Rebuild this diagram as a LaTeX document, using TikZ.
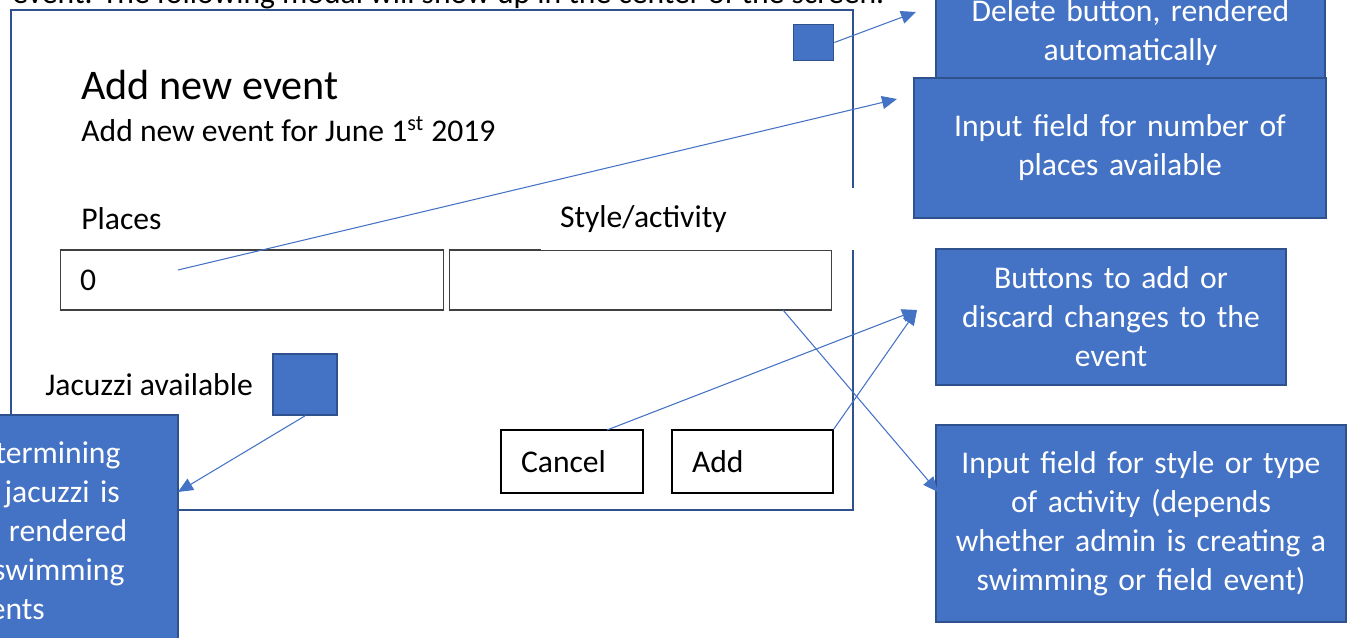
\documentclass[tikz,border=0pt]{standalone}
\usepackage{fontspec}
\setmainfont{Carlito}
\usetikzlibrary{arrows.meta,positioning}
\definecolor{officeblue}{RGB}{68,114,196}
\definecolor{officeedge}{RGB}{47,82,143}
\definecolor{fieldedge}{RGB}{64,64,64}
\newcommand{\bodyfont}{\fontsize{18}{22.2}\selectfont}
\newcommand{\titlefont}{\fontsize{24}{29}\selectfont}

\tikzset{
  note/.style={fill=officeblue, draw=officeedge, line width=0.8pt, text=white,
    align=center, font=\bodyfont, inner sep=0pt},
  field/.style={draw=fieldedge, line width=0.6pt, inner xsep=0.4cm, inner ysep=0pt,
    align=left, font=\bodyfont},
  bluebox/.style={fill=officeblue, draw=officeedge, line width=1pt, inner sep=0pt},
  caption/.style={anchor=base west, inner sep=0pt, font=\bodyfont},
  pointer/.style={draw=officeblue, line width=0.6pt,
    -{Triangle[length=0.3cm, width=0.26cm]}},
}

\begin{document}
\begin{tikzpicture}[x=0.02cm, y=-0.02cm]
  \useasboundingbox (0,0) rectangle (1350,638);

  % modal window
  \node (modal) [draw=officeedge, line width=1.4pt, minimum width=16.84cm,
    minimum height=10cm] at (432,260) {};
  \node (intro) [caption] at (12,4)
    {event. The following modal will show up in the center of the screen.};
  \node (title) [caption, font=\titlefont] at (81,100) {Add new event};
  \node (subtitle) [caption] at (81,142) {Add new event for June 1\textsuperscript{st} 2019};
  \node (placeslbl) [caption] at (81,230) {Places};
  \node (jacuzzilbl) [caption] at (45,396) {Jacuzzi available};

  % fields and buttons
  \node (deletebtn) [bluebox, minimum width=0.8cm, minimum height=0.72cm] at (813.5,42.5) {};
  \node (placesin) [field, minimum height=1.2cm, text width=6.88cm] at (252,280) {0};
  \node (stylein) [field, minimum height=1.2cm, text width=6.86cm] at (640.5,280) {};
  \node (stylelbl) [fill=white, inner xsep=0.38cm, inner ysep=0pt, text width=5.54cm,
    minimum height=1.24cm, align=left, font=\bodyfont] at (698.5,219) {Style/activity};
  \node (jacuzzibox) [bluebox, minimum width=1.28cm, minimum height=1.22cm] at (305,384.5) {};
  \node (cancelbtn) [field, draw=black, minimum height=1.26cm, text width=2.04cm] at (572,461.5) {Cancel};
  \node (addbtn) [field, draw=black, minimum height=1.26cm, text width=2.42cm] at (752.5,461.5) {Add};

  % callouts
  \node (deletenote) [note, minimum width=7.78cm, minimum height=1.8cm, text width=7.4cm]
    at (1130.5,33) {Delete button, rendered\\automatically};
  \node (placesnote) [note, minimum width=8.24cm, minimum height=2.8cm, text width=7.8cm]
    at (1120,148) {Input field for number of\\places available};
  \node (buttonsnote) [note, minimum width=7cm, minimum height=2.72cm, text width=6.6cm]
    at (1111,317) {Buttons to add or\\discard changes to the\\event};
  \node (stylenote) [note, minimum width=8.2cm, minimum height=3.94cm, text width=7.8cm]
    at (1141,523.5) {Input field for style or type\\of activity (depends\\whether admin is creating a\\swimming or field event)};
  \node (jacuzzinote) [note, minimum width=7.02cm, minimum height=4.64cm, text width=6.6cm]
    at (2.5,531) {Input determining\\whether jacuzzi is\\available, rendered\\only for swimming\\events};

  % pointers
  \coordinate (deletetip) at (916,12);
  \coordinate (placesfrom) at (178,270);
  \coordinate (placestip) at (897,99);
  \coordinate (stylefrom) at (783,310);
  \coordinate (styletip) at (938,492);
  \coordinate (cancelfrom) at (607,430);
  \coordinate (buttonstip) at (917,310);
  \coordinate (jacuzzitip) at (178,492);
  \draw[pointer] (deletebtn.east) -- (deletetip);
  \draw[pointer] (placesfrom) -- (placestip);
  \draw[pointer] (stylefrom) -- (styletip);
  \draw[pointer] (cancelfrom) -- (buttonstip);
  \draw[pointer] (addbtn.north east) -- (buttonstip);
  \draw[pointer] (jacuzzibox.south) -- (jacuzzitip);
\end{tikzpicture}
\end{document}
